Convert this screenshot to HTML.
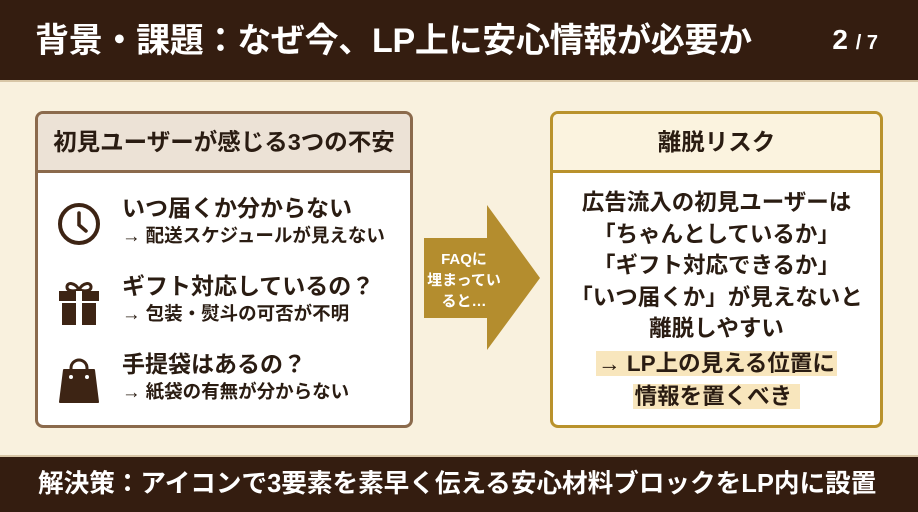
<!DOCTYPE html>
<html><head><meta charset="utf-8"><style>
*{margin:0;padding:0;box-sizing:border-box}
body{width:918px;height:512px;overflow:hidden;background:#f9f1de;font-family:"Liberation Sans","Noto Sans CJK JP",sans-serif;position:relative;font-weight:bold;color:#2a1c12}
.hdr{position:absolute;left:0;top:0;width:918px;height:82px;background:#341d10;border-bottom:2px solid #d8c6a6}
.hdr .t{position:absolute;left:35px;top:21px;color:#fff;font-size:34px;line-height:40px;white-space:nowrap;letter-spacing:-0.3px}
.hdr .p{position:absolute;right:40px;top:22px;color:#fff;font-size:28px;line-height:36px}
.hdr .p small{font-size:20px}
.ftr{position:absolute;left:0;top:455px;width:918px;height:57px;background:#341d10;border-top:2px solid #d8c6a6}
.ftr div{position:absolute;left:38px;top:10px;color:#fff;font-size:25.6px;line-height:34px;white-space:nowrap}
.box{position:absolute;top:111px;height:317px;background:#fff;border-radius:8px;overflow:hidden}
.lb{left:35px;width:378px;border:3px solid #8b6a4c}
.rb{left:550px;width:333px;border:3px solid #b9922c}
.bh{height:59px;text-align:center;font-size:23.5px;line-height:57px;white-space:nowrap}
.lb .bh{background:#ece2d6;border-bottom:3px solid #8b6a4c}
.rb .bh{background:#fbf3df;border-bottom:3px solid #b9922c}
.it{position:absolute;left:84px;white-space:nowrap}
.it .a{font-size:23px;line-height:29px}
.it .b{font-size:18.5px;line-height:25px}
.ic{position:absolute;left:19px}
.rt{position:absolute;left:0;width:100%;top:73px;text-align:center;font-size:22.5px;line-height:31.5px;white-space:nowrap}
.hl{background:#f8e6bd;padding:0 2px}
</style></head><body>
<div class="hdr"><div class="t">背景・課題：なぜ今、LP上に安心情報が必要か</div><div class="p">2 <small>/ 7</small></div></div>

<div class="box lb"><div class="bh">初見ユーザーが感じる3つの不安</div>
<svg class="ic" style="top:88px" width="44" height="44" viewBox="0 0 44 44"><circle cx="22" cy="22" r="19" fill="none" stroke="#3d2414" stroke-width="4"/><path d="M22 11v12l7 6" fill="none" stroke="#3d2414" stroke-width="3.5" stroke-linecap="round"/></svg>
<div class="it" style="top:80px"><div class="a">いつ届くか分からない</div><div class="b">→ 配送スケジュールが見えない</div></div>
<svg class="ic" style="top:164px" width="44" height="48" viewBox="0 0 44 48"><path d="M22 12c-4-8-12-8-12-3s8 4 12 3c4 1 12 2 12-3s-8-5-12 3" fill="none" stroke="#3d2414" stroke-width="3"/><rect x="2" y="13" width="40" height="10" fill="#3d2414"/><rect x="5" y="25" width="34" height="22" fill="#3d2414"/><rect x="19" y="13" width="6" height="34" fill="#fff"/></svg>
<div class="it" style="top:158px"><div class="a">ギフト対応しているの？</div><div class="b">→ 包装・熨斗の可否が不明</div></div>
<svg class="ic" style="top:242px" width="44" height="48" viewBox="0 0 44 48"><path d="M14 18v-6a8 8 0 0 1 16 0v6" fill="none" stroke="#3d2414" stroke-width="3"/><path d="M7 14h30l4 32H3z" fill="#3d2414" stroke="#3d2414" stroke-linejoin="round" stroke-width="2"/><circle cx="14" cy="21" r="2" fill="#fff"/><circle cx="30" cy="21" r="2" fill="#fff"/></svg>
<div class="it" style="top:236px"><div class="a">手提袋はあるの？</div><div class="b">→ 紙袋の有無が分からない</div></div>
</div>

<svg style="position:absolute;left:424px;top:205px" width="118" height="146" viewBox="0 0 118 146"><path d="M0 33H63V0L116 73L63 145V113H0Z" fill="#b48d2e"/>
<text x="40" y="59" fill="#fff" font-size="15" text-anchor="middle" font-weight="bold" font-family="Liberation Sans, Noto Sans CJK JP, sans-serif">FAQに</text>
<text x="40" y="80" fill="#fff" font-size="15" text-anchor="middle" font-weight="bold" font-family="Liberation Sans, Noto Sans CJK JP, sans-serif">埋まってい</text>
<text x="40" y="101" fill="#fff" font-size="15" text-anchor="middle" font-weight="bold" font-family="Liberation Sans, Noto Sans CJK JP, sans-serif">ると…</text></svg>

<div class="box rb"><div class="bh">離脱リスク</div>
<div class="rt">広告流入の初見ユーザーは<br>「ちゃんとしているか」<br>「ギフト対応できるか」<br>「いつ届くか」が見えないと<br>離脱しやすい</div>
<div class="rt" style="top:233px;line-height:33px"><span class="hl">→ LP上の見える位置に</span><br><span class="hl">情報を置くべき&nbsp;</span></div>
</div>

<div class="ftr"><div>解決策：アイコンで3要素を素早く伝える安心材料ブロックをLP内に設置</div></div>
</body></html>
